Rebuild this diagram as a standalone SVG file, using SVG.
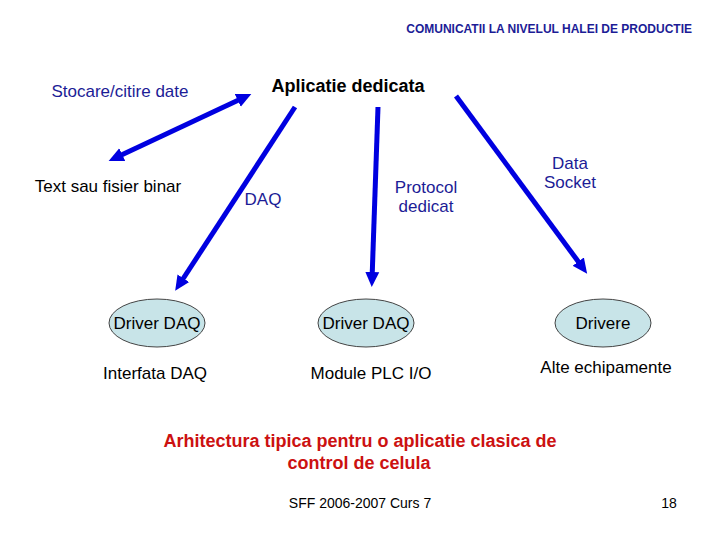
<svg xmlns="http://www.w3.org/2000/svg" width="720" height="540" viewBox="0 0 720 540">
<style>
text{font-family:"Liberation Sans",Arial,sans-serif;}
.lbl{font-size:17px;fill:#1c1c96;}
.blk{font-size:17px;fill:#000;}
.node{fill:#c8e4e8;stroke:#444;stroke-width:1;}
.ntext{font-size:17px;fill:#000;text-anchor:middle;}
.conn{stroke:#0000e0;stroke-width:5;fill:none;}
.red{font-size:18px;font-weight:bold;fill:#cc1111;text-anchor:middle;}
</style>
<defs>
<marker id="ah" markerUnits="userSpaceOnUse" markerWidth="16" markerHeight="16" refX="8" refY="7" orient="auto-start-reverse" viewBox="0 0 16 14">
<path d="M0,0 L15,7 L0,14 z" fill="#0000e0"/>
</marker>
</defs>
<rect width="720" height="540" fill="#fff"/>
<text id="title" x="692" y="33" font-size="12" font-weight="bold" fill="#1c1c96" text-anchor="end">COMUNICATII LA NIVELUL HALEI DE PRODUCTIE</text>

<g id="connectors">
<line class="conn" x1="115" y1="158" x2="245" y2="97" marker-start="url(#ah)" marker-end="url(#ah)"/>
<line class="conn" x1="295" y1="107" x2="179" y2="285" marker-end="url(#ah)"/>
<line class="conn" x1="378" y1="107" x2="372" y2="280" marker-end="url(#ah)"/>
<line class="conn" x1="456" y1="96" x2="583" y2="268" marker-end="url(#ah)"/>
</g>

<g id="app"><text x="348" y="92" font-size="18" font-weight="bold" fill="#000" text-anchor="middle">Aplicatie dedicata</text></g>
<g id="storage-label"><text class="lbl" x="120" y="97" text-anchor="middle">Stocare/citire date</text></g>
<g id="file"><text class="blk" x="108" y="192" text-anchor="middle">Text sau fisier binar</text></g>
<g id="daq-label"><text class="lbl" x="263" y="205" text-anchor="middle">DAQ</text></g>
<g id="protocol-label"><text class="lbl" x="426" y="193" text-anchor="middle">Protocol</text><text class="lbl" x="426" y="212" text-anchor="middle">dedicat</text></g>
<g id="socket-label"><text class="lbl" x="570" y="169" text-anchor="middle">Data</text><text class="lbl" x="570" y="188" text-anchor="middle">Socket</text></g>

<g id="driver1"><ellipse class="node" cx="157" cy="323" rx="48" ry="24"/><text class="ntext" x="157" y="329">Driver DAQ</text></g>
<g id="driver2"><ellipse class="node" cx="366" cy="323" rx="48" ry="24"/><text class="ntext" x="366" y="329">Driver DAQ</text></g>
<g id="driver3"><ellipse class="node" cx="603" cy="323" rx="48" ry="24"/><text class="ntext" x="603" y="329">Drivere</text></g>

<g id="interfata"><text class="ntext" x="155" y="379">Interfata DAQ</text></g>
<g id="module"><text class="ntext" x="371" y="379">Module PLC I/O</text></g>
<g id="alte"><text class="ntext" x="606" y="373">Alte echipamente</text></g>

<text class="red" x="360" y="447">Arhitectura tipica pentru o aplicatie clasica de</text>
<text class="red" x="359" y="469">control de celula</text>
<text x="360" y="508" font-size="14" fill="#000" text-anchor="middle">SFF 2006-2007 Curs 7</text>
<text x="669" y="508" font-size="14" fill="#000" text-anchor="middle">18</text>
</svg>
